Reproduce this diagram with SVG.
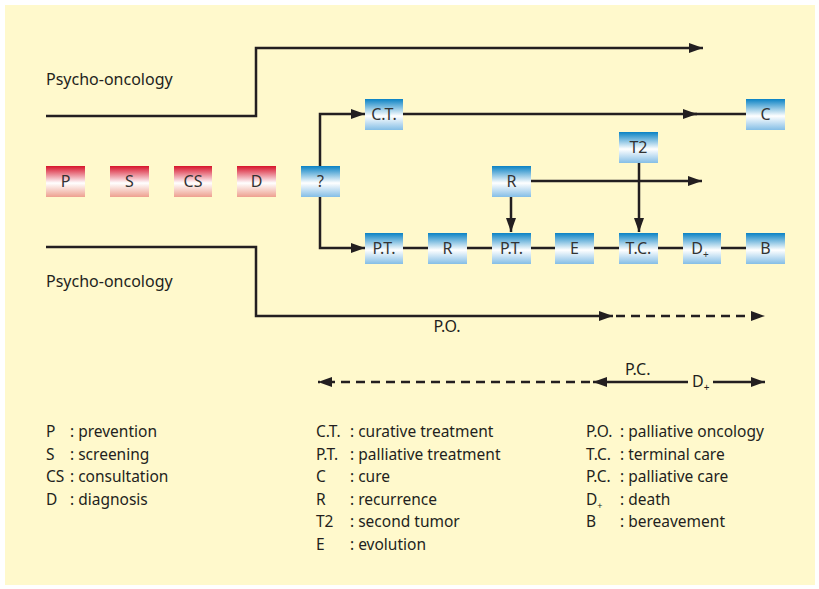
<svg xmlns="http://www.w3.org/2000/svg" width="819" height="589" viewBox="0 0 819 589">
<defs>
<linearGradient id="gr" x1="0" y1="0" x2="0" y2="1">
<stop offset="0" stop-color="#d7132a"/>
<stop offset="0.55" stop-color="#ffffff"/>
<stop offset="1" stop-color="#eea08f"/>
</linearGradient>
<linearGradient id="gb" x1="0" y1="0" x2="0" y2="1">
<stop offset="0" stop-color="#0a82c4"/>
<stop offset="0.55" stop-color="#ffffff"/>
<stop offset="1" stop-color="#84bee6"/>
</linearGradient>
<marker id="ah" markerUnits="userSpaceOnUse" markerWidth="15" markerHeight="11" refX="14" refY="5.5" orient="auto">
<path d="M0,0.5 L14,5.5 L0,10.5 z" fill="#231f20"/>
</marker>
<style>
.bg{fill:#fff9cc}
.ln{fill:none;stroke:#231f20;stroke-width:2.5}
.dl{fill:none;stroke:#231f20;stroke-width:2.5;stroke-dasharray:9 6}
.rb{fill:url(#gr)}
.bb{fill:url(#gb)}
.bt{font-family:"Noto Sans","Liberation Sans",sans-serif;font-size:16px;fill:#333;text-anchor:middle}
.tx{font-family:"Noto Sans","Liberation Sans",sans-serif;font-size:16px;fill:#231f20}
.lg{font-family:"Noto Sans","Liberation Sans",sans-serif;font-size:15.5px;fill:#231f20}
</style>
</defs>
<rect class="bg" x="5" y="5" width="810" height="580"/>

<g id="connectors">
<path class="ln" d="M46,116 H256 V48 H703" marker-end="url(#ah)"/>
<path class="ln" d="M46,247 H256 V316 H613" marker-end="url(#ah)"/>
<path class="dl" d="M616,316 H765" marker-end="url(#ah)"/>
<path class="ln" d="M320,170 V114 H365" marker-end="url(#ah)"/>
<path class="ln" d="M320,195 V248 H365" marker-end="url(#ah)"/>
<path class="ln" d="M403,114 H697" marker-end="url(#ah)"/>
<path class="ln" d="M690,114 H746"/>
<path class="ln" d="M531,181 H702" marker-end="url(#ah)"/>
<path class="ln" d="M511,197 V232" marker-end="url(#ah)"/>
<path class="ln" d="M639,163 V232" marker-end="url(#ah)"/>
<path class="ln" d="M403,248 H746"/>
<path class="dl" d="M590,382 H318" marker-end="url(#ah)"/>
<path class="ln" d="M688,382 H593" marker-end="url(#ah)"/>
<path class="ln" d="M713,382 H765" marker-end="url(#ah)"/>
</g>

<text class="tx" x="46" y="85">Psycho-oncology</text>
<text class="tx" x="46" y="287">Psycho-oncology</text>
<text class="tx" x="447" y="332" text-anchor="middle">P.O.</text>
<text class="tx" x="625" y="375">P.C.</text>
<text class="tx" x="692" y="387">D<tspan font-size="10" dy="4">+</tspan></text>

<g id="n-P"><rect class="rb" x="46" y="166" width="39" height="31"/><text class="bt" x="65.5" y="187">P</text></g>
<g id="n-S"><rect class="rb" x="110" y="166" width="39" height="31"/><text class="bt" x="129.5" y="187">S</text></g>
<g id="n-CS"><rect class="rb" x="174" y="166" width="38" height="31"/><text class="bt" x="193" y="187">CS</text></g>
<g id="n-D"><rect class="rb" x="237" y="166" width="39" height="31"/><text class="bt" x="256.5" y="187">D</text></g>
<g id="n-Q"><rect class="bb" x="301" y="166" width="39" height="31"/><text class="bt" x="320.5" y="187">?</text></g>

<g id="n-CT"><rect class="bb" x="365" y="99" width="38" height="31"/><text class="bt" x="384" y="120">C.T.</text></g>
<g id="n-C"><rect class="bb" x="746" y="99" width="39" height="31"/><text class="bt" x="765.5" y="120">C</text></g>
<g id="n-T2"><rect class="bb" x="619" y="132" width="39" height="31"/><text class="bt" x="638.5" y="153">T2</text></g>
<g id="n-R2"><rect class="bb" x="492" y="166" width="39" height="31"/><text class="bt" x="511.5" y="187">R</text></g>

<g id="n-PT1"><rect class="bb" x="365" y="233" width="38" height="31"/><text class="bt" x="384" y="254">P.T.</text></g>
<g id="n-R1"><rect class="bb" x="428" y="233" width="39" height="31"/><text class="bt" x="447.5" y="254">R</text></g>
<g id="n-PT2"><rect class="bb" x="492" y="233" width="39" height="31"/><text class="bt" x="511.5" y="254">P.T.</text></g>
<g id="n-E"><rect class="bb" x="555" y="233" width="39" height="31"/><text class="bt" x="574.5" y="254">E</text></g>
<g id="n-TC"><rect class="bb" x="619" y="233" width="39" height="31"/><text class="bt" x="638.5" y="254">T.C.</text></g>
<g id="n-Dp"><rect class="bb" x="683" y="233" width="38" height="31"/><text class="bt" x="700" y="254">D<tspan font-size="10" dy="4">+</tspan></text></g>
<g id="n-B"><rect class="bb" x="746" y="233" width="39" height="31"/><text class="bt" x="765.5" y="254">B</text></g>

<g id="legend">
<text class="lg" x="46" y="437">P</text><text class="lg" x="70" y="437">: prevention</text>
<text class="lg" x="46" y="460">S</text><text class="lg" x="70" y="460">: screening</text>
<text class="lg" x="46" y="482">CS</text><text class="lg" x="70" y="482">: consultation</text>
<text class="lg" x="46" y="505">D</text><text class="lg" x="70" y="505">: diagnosis</text>

<text class="lg" x="316" y="437">C.T.</text><text class="lg" x="350" y="437">: curative treatment</text>
<text class="lg" x="316" y="460">P.T.</text><text class="lg" x="350" y="460">: palliative treatment</text>
<text class="lg" x="316" y="482">C</text><text class="lg" x="350" y="482">: cure</text>
<text class="lg" x="316" y="505">R</text><text class="lg" x="350" y="505">: recurrence</text>
<text class="lg" x="316" y="527">T2</text><text class="lg" x="350" y="527">: second tumor</text>
<text class="lg" x="316" y="550">E</text><text class="lg" x="350" y="550">: evolution</text>

<text class="lg" x="586" y="437">P.O.</text><text class="lg" x="620" y="437">: palliative oncology</text>
<text class="lg" x="586" y="460">T.C.</text><text class="lg" x="620" y="460">: terminal care</text>
<text class="lg" x="586" y="482">P.C.</text><text class="lg" x="620" y="482">: palliative care</text>
<text class="lg" x="586" y="505">D<tspan font-size="9" dy="4">+</tspan></text><text class="lg" x="620" y="505">: death</text>
<text class="lg" x="586" y="527">B</text><text class="lg" x="620" y="527">: bereavement</text>
</g>
</svg>
